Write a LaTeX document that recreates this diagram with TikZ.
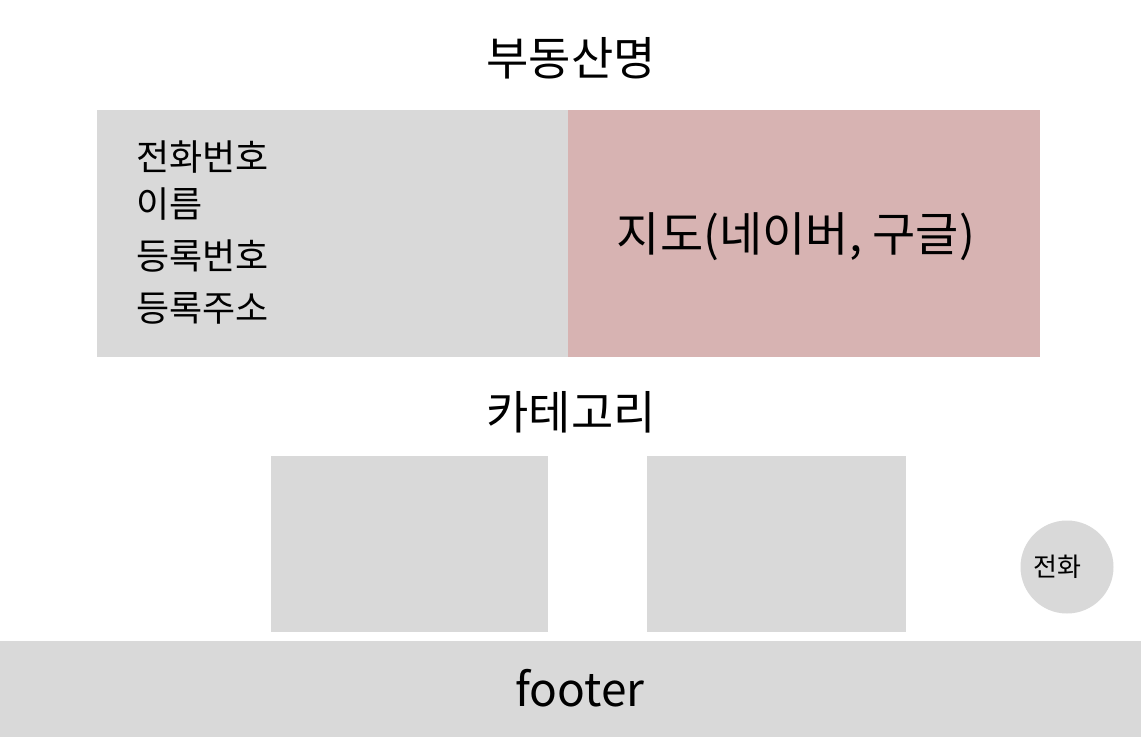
\documentclass[tikz,border=0pt]{standalone}
\usepackage{fontspec}
\setmainfont{Noto Sans CJK KR}
\definecolor{boxgray}{HTML}{D9D9D9}
\definecolor{mappink}{HTML}{D7B3B2}
\begin{document}
\begin{tikzpicture}[x=1pt,y=-1pt,
  blk/.style={fill=boxgray,draw=none},
  txt/.style={inner sep=0pt,text=black}]
\useasboundingbox (0,0) rectangle (1141,737);
\fill[white] (0,0) rectangle (1141,737);
% title
\node[txt,font=\fontsize{46}{54}\selectfont] (title) at (571,58) {부동산명};
% info box
\node[blk,minimum width=471pt,minimum height=247pt,anchor=north west,inner sep=0pt] (info) at (97,110) {};
\node[fill=mappink,draw=none,minimum width=472pt,minimum height=247pt,anchor=north west,inner sep=0pt] (map) at (568,110) {};
\node[txt,anchor=west,font=\fontsize{36}{42}\selectfont] (l1) at (136,157) {전화번호};
\node[txt,anchor=west,font=\fontsize{36}{42}\selectfont] (l2) at (136,204) {이름};
\node[txt,anchor=west,font=\fontsize{36}{42}\selectfont] (l3) at (136,256) {등록번호};
\node[txt,anchor=west,font=\fontsize{36}{42}\selectfont] (l4) at (136,308) {등록주소};
\node[txt,font=\fontsize{47}{55}\selectfont] (maptxt) at (796,237) {지도(네이버, 구글)};
% category
\node[txt,font=\fontsize{46}{54}\selectfont] (cat) at (571,412) {카테고리};
\node[blk,minimum width=277pt,minimum height=176pt,anchor=north west,inner sep=0pt] (c1) at (271,456) {};
\node[blk,minimum width=259pt,minimum height=176pt,anchor=north west,inner sep=0pt] (c2) at (647,456) {};
% call button
\node[blk,circle,minimum size=93pt,inner sep=0pt] (call) at (1067,567) {};
\node[txt,font=\fontsize{26}{30}\selectfont] (calltxt) at (1057,567) {전화};
% footer
\node[blk,minimum width=1141pt,minimum height=96pt,anchor=north west,inner sep=0pt] (foot) at (0,641) {};
\node[txt,font=\fontsize{46}{54}\selectfont] (foottxt) at (580,688) {footer};
\end{tikzpicture}
\end{document}
